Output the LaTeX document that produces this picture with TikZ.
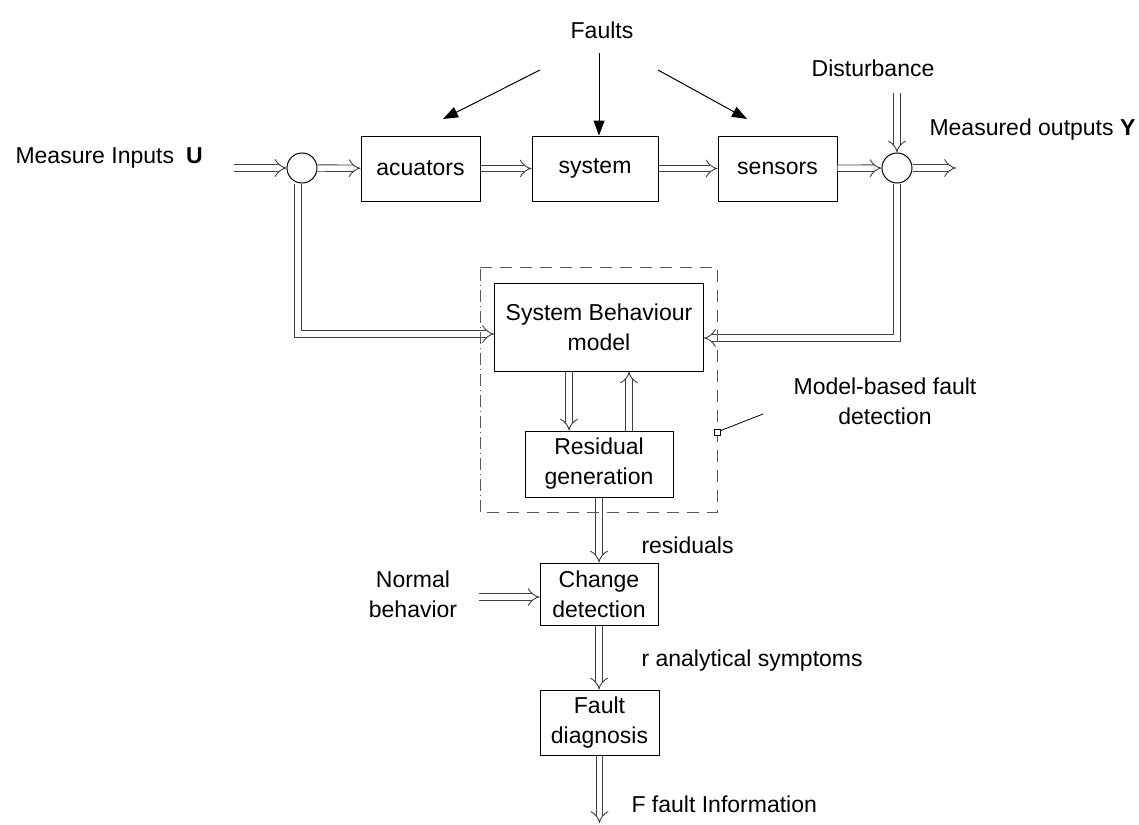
\documentclass[tikz,border=0pt]{standalone}
\usepackage{fontspec}
\setmainfont{Liberation Sans}
\usetikzlibrary{arrows.meta}
\begin{document}
\begin{tikzpicture}[x=1pt,y=-1pt,
  every node/.style={font=\fontsize{23}{30}\selectfont},
  blk/.style={draw, line width=1pt, inner sep=0pt, align=center},
  sumpt/.style={circle, draw, line width=1pt, minimum size=30pt, inner sep=0pt},
  dbl/.style={draw=black!75, line width=0.9pt, double=white, double distance=5.5pt, -{Implies}},
  fault/.style={line width=1pt, -{Triangle[length=15pt,width=11pt]}},
  frame/.style={draw=black!65, line width=1pt, dash pattern=on 12pt off 8pt},
  frameleft/.style={draw=black!65, line width=1pt, dash pattern=on 12pt off 4pt on 1pt off 4pt}
]
\useasboundingbox (0,0) rectangle (1139,824);

% main loop blocks
\node[blk, minimum width=119pt, minimum height=65pt] (act) at (420.5,168.5) {acuators};
\node[blk, minimum width=126pt, minimum height=65pt] (sys) at (595,168.5) {system};
\node[blk, minimum width=119pt, minimum height=65pt] (sen) at (777.5,168.5) {sensors};
\node[sumpt] (c1) at (302,168) {};
\node[sumpt] (c2) at (897,168) {};

% diagnosis blocks
\node[blk, minimum width=209pt, minimum height=88pt] (sbm) at (599,327) {System Behaviour\\model};
\node[blk, minimum width=148pt, minimum height=66pt] (res) at (599,464) {Residual\\generation};
\node[blk, minimum width=118pt, minimum height=62pt] (chg) at (599,594) {Change\\detection};
\node[blk, minimum width=119pt, minimum height=65pt] (fd) at (599.5,722.5) {Fault\\diagnosis};

% texts
\node (faults) at (602,30) {Faults};
\node[anchor=west] (min) at (12,158) {Measure Inputs\hspace{12pt}\textbf{U}};
\node (dist) at (873,68) {Disturbance};
\node[anchor=west] (mout) at (926,130) {Measured outputs \textbf{Y}};
\node[align=center] (nb) at (413,594) {Normal\\behavior};
\node[anchor=base west] (resl) at (638,553) {residuals};
\node[anchor=base west] (ras) at (638,666) {r analytical symptoms};
\node[anchor=base west] (ffi) at (628,812) {F fault Information};
\node[align=center] (mbf) at (885,401) {Model-based fault\\detection};

% fault arrows
\coordinate (fl) at (540,70);
\coordinate (flt) at (443,119);
\coordinate (fm) at (599,53);
\coordinate (fr) at (658,70);
\coordinate (frt) at (747,119);
\draw[fault] (fl) -- (flt);
\draw[fault] (fm) -- (fm |- sys.north);
\draw[fault] (fr) -- (frt);

% main signal path
\coordinate (uin) at (234,168);
\coordinate (yout) at (956,168);
\coordinate (dtop) at (897,93);
\draw[dbl] (uin) -- (c1);
\draw[dbl] (c1) -- (act);
\draw[dbl] (act) -- (sys);
\draw[dbl] (sys) -- (sen);
\draw[dbl] (sen) -- (c2);
\draw[dbl] (c2) -- (yout);
\draw[dbl] (dtop) -- (c2);

% feedback to the model
\draw[dbl] ([xshift=-4pt]c1.south) |- ([yshift=-7pt]sbm.west);
\draw[dbl] (c2.south) |- ([yshift=-11pt]sbm.east);

% model <-> residual generation
\draw[dbl] ([xshift=-30pt]sbm.south) -- ([xshift=-30pt]res.north);
\draw[dbl] ([xshift=30pt]res.north) -- ([xshift=30pt]sbm.south);

% down the chain
\draw[dbl] (res) -- (chg);
\draw[dbl] (chg.south) -- (chg.south |- fd.north);
\coordinate (fout) at (599.5,823);
\draw[dbl] (fd) -- (fout);
\coordinate (nbs) at (479,597);
\draw[dbl] (nbs) -- (nbs -| chg.west);

% model-based fault detection frame
\coordinate (fa) at (480,267);
\coordinate (fb) at (717,267);
\coordinate (fc) at (717,512);
\coordinate (fdd) at (480,512);
\draw[frame] (fa) -- (fb) -- (fc) -- (fdd);
\draw[frameleft] (fdd) -- (fa);
\node[draw, line width=0.8pt, fill=white, minimum size=6pt, inner sep=0pt] (sq) at (717,432) {};
\coordinate (lead) at (763,414);
\draw[line width=0.8pt] (sq) -- (lead);
\end{tikzpicture}
\end{document}
